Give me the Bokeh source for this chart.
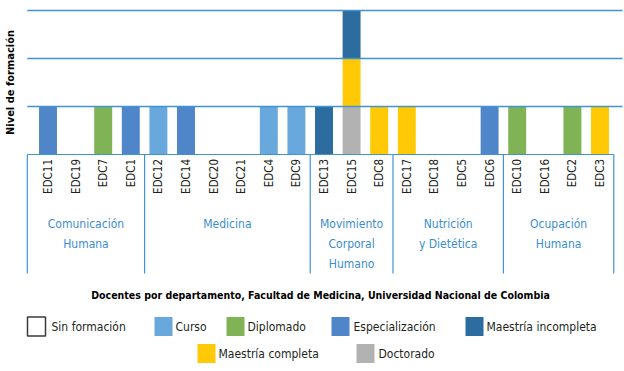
import math
from bokeh.plotting import figure
from bokeh.models import ColumnDataSource, Range1d
from bokeh.core.properties import value
from bokeh.embed import file_html
from bokeh.resources import INLINE

# ---------------- data ----------------
docentes = ["EDC11", "EDC19", "EDC7", "EDC1",
            "EDC12", "EDC14", "EDC20", "EDC21", "EDC4", "EDC9",
            "EDC13", "EDC15", "EDC8",
            "EDC17", "EDC18", "EDC5", "EDC6",
            "EDC10", "EDC16", "EDC2", "EDC3"]
departamentos = ["Comunicación\nHumana", "Medicina", "Movimiento\nCorporal\nHumano",
                 "Nutrición\ny Dietética", "Ocupación\nHumana"]
docentes_por_departamento = [4, 6, 3, 4, 4]

niveles = ["Sin formación", "Curso", "Diplomado", "Especialización",
           "Maestría incompleta", "Maestría completa", "Doctorado"]
sin_formacion       = [0, 0, 0, 0, 0, 0, 0, 0, 0, 0, 0, 0, 0, 0, 0, 0, 0, 0, 0, 0, 0]
curso               = [0, 0, 0, 0, 1, 0, 0, 0, 1, 1, 0, 0, 0, 0, 0, 0, 0, 0, 0, 0, 0]
diplomado           = [0, 0, 1, 0, 0, 0, 0, 0, 0, 0, 0, 0, 0, 0, 0, 0, 0, 1, 0, 1, 0]
especializacion     = [1, 0, 0, 1, 0, 1, 0, 0, 0, 0, 0, 0, 0, 0, 0, 0, 1, 0, 0, 0, 0]
maestria_incompleta = [0, 0, 0, 0, 0, 0, 0, 0, 0, 0, 1, 1, 0, 0, 0, 0, 0, 0, 0, 0, 0]
maestria_completa   = [0, 0, 0, 0, 0, 0, 0, 0, 0, 0, 0, 1, 1, 1, 0, 0, 0, 0, 0, 0, 1]
doctorado           = [0, 0, 0, 0, 0, 0, 0, 0, 0, 0, 0, 1, 0, 0, 0, 0, 0, 0, 0, 0, 0]
niveles_y = [1, 2, 3]

titulo = "Docentes por departamento, Facultad de Medicina, Universidad Nacional de Colombia"
eje_y = "Nivel de formación"

# ---------------- style ----------------
FONT = "DejaVu Sans Condensed"
colores = {
    "Sin formación": "#ffffff",
    "Curso": "#69a8dc",
    "Diplomado": "#7fb356",
    "Especialización": "#4f86c9",
    "Maestría incompleta": "#2d6c9f",
    "Maestría completa": "#ffca05",
    "Doctorado": "#b2b2b2",
}
BLUE = "#3f95d2"
TEXT = "#231f20"

# page pixel -> data helpers
X0, DX = 47.5, 27.6
Y0, DY = 154.0, 48.0
def px_x(px):
    return (px - X0) / DX
def py_y(py):
    return (Y0 - py) / DY

W, H = 624, 371
p = figure(width=W, height=H, output_backend="svg", toolbar_location=None,
           x_range=Range1d(px_x(0), px_x(W)), y_range=Range1d(py_y(H), py_y(0)),
           x_axis_location=None, y_axis_location=None, min_border=0)
p.grid.visible = False
p.outline_line_color = None
p.background_fill_color = "white"
p.border_fill_color = "white"

xs = list(range(len(docentes)))
series = {
    "Doctorado": doctorado,
    "Maestría completa": maestria_completa,
    "Maestría incompleta": maestria_incompleta,
    "Curso": curso,
    "Diplomado": diplomado,
    "Especialización": especializacion,
    "Sin formación": sin_formacion,
}
data = {"x": xs, "docente": docentes}
data.update(series)
src = ColumnDataSource(data)
orden = list(series.keys())
p.vbar_stack(orden, x="x", width=0.65, source=src,
             color=[colores[k] for k in orden], line_color=None)

# bracket edges
edges = [-0.75]
acc = 0
for n in docentes_por_departamento:
    acc += n
    edges.append(acc - 0.5)
right_edge = px_x(622)

# gridlines drawn over bars
p.segment(x0=[edges[0]] * len(niveles_y), x1=[right_edge] * len(niveles_y),
          y0=niveles_y, y1=niveles_y, line_color=BLUE, line_width=1.5)
# baseline / bracket top
p.segment(x0=[edges[0]], x1=[edges[-1]], y0=[0], y1=[0], line_color=BLUE, line_width=1.2)
p.segment(x0=edges, x1=edges, y0=[0] * len(edges), y1=[py_y(273)] * len(edges),
          line_color=BLUE, line_width=1.2)

# docente labels (vertical)
p.text(x="x", y=py_y(158.5), text="docente", source=src, angle=math.pi / 2,
       text_align="right", text_baseline="middle", text_color=TEXT,
       text_font=value(FONT), text_font_size="11.5px")

# department labels
dx, dy, dt = [], [], []
lh = 20 / DY
for i, name in enumerate(departamentos):
    cx = (edges[i] + edges[i + 1]) / 2
    for k, line in enumerate(name.split("\n")):
        dx.append(cx)
        dy.append(py_y(223) - k * lh)
        dt.append(line)
p.text(x=dx, y=dy, text=dt, text_align="center", text_baseline="middle",
       text_color="#3b8dd0", text_font=value(FONT), text_font_size="12px")

# y-axis title
p.text(x=[px_x(9.5)], y=[1.5], text=[eje_y], angle=math.pi / 2,
       text_align="center", text_baseline="middle", text_color="black",
       text_font=value(FONT), text_font_size="11px", text_font_style="bold")

# chart title
p.text(x=[(edges[0] + edges[-1]) / 2], y=[py_y(294)], text=[titulo],
       text_align="center", text_baseline="middle", text_color="black",
       text_font=value(FONT), text_font_size="10.5px", text_font_style="bold")

# legend (manual)
leg_box_left = [27, 154, 226, 331, 465, 197, 356]
leg_text_left = [51, 175, 247, 353, 486, 218, 378]
leg_row_y = [326, 326, 326, 326, 326, 353, 353]
bx = [px_x(b + 9) for b in leg_box_left]
by = [py_y(r) for r in leg_row_y]
p.rect(x=bx, y=by, width=18, height=19, width_units="screen", height_units="screen",
       fill_color=[colores[n] for n in niveles],
       line_color=["#3a3a3a"] + [None] * (len(niveles) - 1), line_width=1.5)
p.text(x=[px_x(t) for t in leg_text_left], y=by, text=niveles,
       text_align="left", text_baseline="middle", text_color=TEXT,
       text_font=value(FONT), text_font_size="12px")

open("out.html", "w").write(file_html(p, INLINE))
